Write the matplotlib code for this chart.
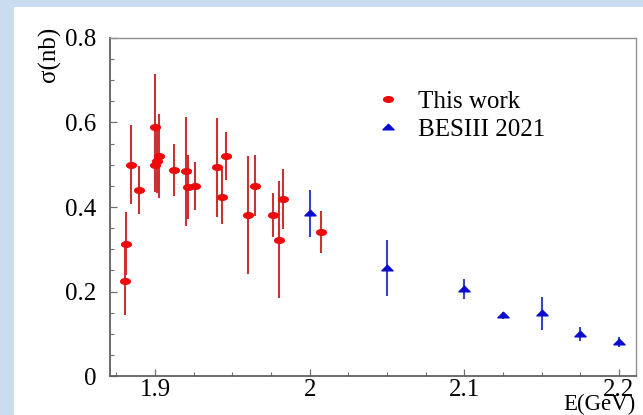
import matplotlib
matplotlib.use("Agg")
import matplotlib.pyplot as plt
from matplotlib.path import Path
from matplotlib.transforms import Affine2D
from matplotlib.lines import Line2D
from matplotlib.patches import Rectangle
from matplotlib.ticker import MultipleLocator, FixedLocator

# --- data -------------------------------------------------------------
# This work
this_e = [1.8805, 1.8815, 1.8843, 1.8899, 1.9000, 1.9002, 1.9015, 1.9028,
          1.9123, 1.9200, 1.9215, 1.9259, 1.9400, 1.9431, 1.9459, 1.9603,
          1.9647, 1.9765, 1.9804, 1.9830, 2.0073]
this_sigma = [0.226, 0.313, 0.500, 0.440, 0.589, 0.500, 0.509, 0.521,
              0.488, 0.485, 0.447, 0.449, 0.494, 0.424, 0.520, 0.381,
              0.450, 0.381, 0.323, 0.420, 0.341]
this_err = [0.082, 0.075, 0.093, 0.056, 0.125, 0.065, 0.075, 0.100,
            0.062, 0.129, 0.076, 0.057, 0.117, 0.065, 0.057, 0.140,
            0.072, 0.052, 0.139, 0.071, 0.050]

# BESIII 2021
bes_e = [2.000, 2.050, 2.100, 2.125, 2.150, 2.175, 2.200]
bes_sigma = [0.385, 0.256, 0.206, 0.144, 0.148, 0.099, 0.081]
bes_err = [0.055, 0.067, 0.024, 0.008, 0.039, 0.017, 0.012]

x_ticks = [1.9, 2.0, 2.1, 2.2]
x_tick_labels = ["1.9", "2", "2.1", "2.2"]
y_ticks = [0.0, 0.2, 0.4, 0.6, 0.8]
y_tick_labels = ["0", "0.2", "0.4", "0.6", "0.8"]

# --- styling ----------------------------------------------------------
SERIF = ["Liberation Serif", "DejaVu Serif"]
plt.rcParams["font.family"] = SERIF

W, H = 643, 415
fig = plt.figure(figsize=(W / 100, H / 100), dpi=100)
fig.patch.set_facecolor("#c9dcf0")
fig.patches.append(Rectangle((14 / W, 0), 1, 1 - 7 / H, transform=fig.transFigure,
                             facecolor="white", edgecolor="none", zorder=-10))

ax = fig.add_axes([110 / W, 1 - 376 / H, (636 - 110) / W, (376 - 38) / H])
ax.set_facecolor("white")

# flattened markers
ellipse = Path.unit_circle().transformed(Affine2D().scale(1.0, 0.58))
triangle = Path([(-1, -0.42), (1, -0.42), (0, 0.58), (-1, -0.42)],
                [Path.MOVETO, Path.LINETO, Path.LINETO, Path.CLOSEPOLY])

red_marker = "#ee0a0a"
red_bar = "#c83434"
blue_marker = "#0a0ad0"
blue_bar = "#3646bc"
RED_MS = 7.0
BLUE_MS = 8.0

ax.errorbar(this_e, this_sigma, yerr=this_err, ls="none", marker=ellipse,
            ms=RED_MS, mfc=red_marker, mec=red_marker, ecolor=red_bar,
            elinewidth=1.5, capsize=0, zorder=3)
ax.errorbar(bes_e, bes_sigma, yerr=bes_err, ls="none", marker=triangle,
            ms=BLUE_MS, mfc=blue_marker, mec=blue_marker, ecolor=blue_bar,
            elinewidth=1.5, capsize=0, zorder=3)

ax.set_xlim(1.8709, 2.211)
ax.set_ylim(0, 0.8)

ax.xaxis.set_major_locator(FixedLocator(x_ticks))
ax.set_xticklabels(x_tick_labels)
ax.xaxis.set_minor_locator(MultipleLocator(0.025))
ax.yaxis.set_major_locator(FixedLocator(y_ticks))
ax.set_yticklabels(y_tick_labels)
ax.yaxis.set_minor_locator(MultipleLocator(0.05))

ax.tick_params(axis="both", which="both", direction="in", colors="#707070",
               labelcolor="black", labelsize=18, top=False, right=False)
ax.tick_params(axis="both", which="major", length=5, width=0.9)
ax.tick_params(axis="both", which="minor", length=3, width=0.8)
ax.tick_params(axis="x", which="major", pad=2)
ax.tick_params(axis="y", which="major", pad=10)

for side in ("left", "bottom"):
    ax.spines[side].set_color("#606060")
    ax.spines[side].set_linewidth(1.3)
for side in ("top", "right"):
    ax.spines[side].set_color("#909090")
    ax.spines[side].set_linewidth(1.0)

# axis titles anchored at the axis ends
fig.text(49 / W, 1 - 27 / H, "σ(nb)", rotation=90, ha="center", va="top",
         fontsize=18)
fig.text(636 / W, 1 - 410 / H, "E(GeV)", ha="right", va="baseline", fontsize=16.5)

handles = [
    Line2D([], [], ls="none", marker=ellipse, ms=RED_MS, mfc=red_marker, mec=red_marker),
    Line2D([], [], ls="none", marker=triangle, ms=BLUE_MS, mfc=blue_marker, mec=blue_marker),
]
ax.legend(handles, ["This work", "BESIII 2021"], loc="center left",
          bbox_to_anchor=(0.504, 0.7707), frameon=False, fontsize=18,
          handlelength=1.0, handletextpad=0.72, labelspacing=0.24,
          borderpad=0, borderaxespad=0, numpoints=1)

fig.savefig("out.png", dpi=100, facecolor=fig.get_facecolor())
